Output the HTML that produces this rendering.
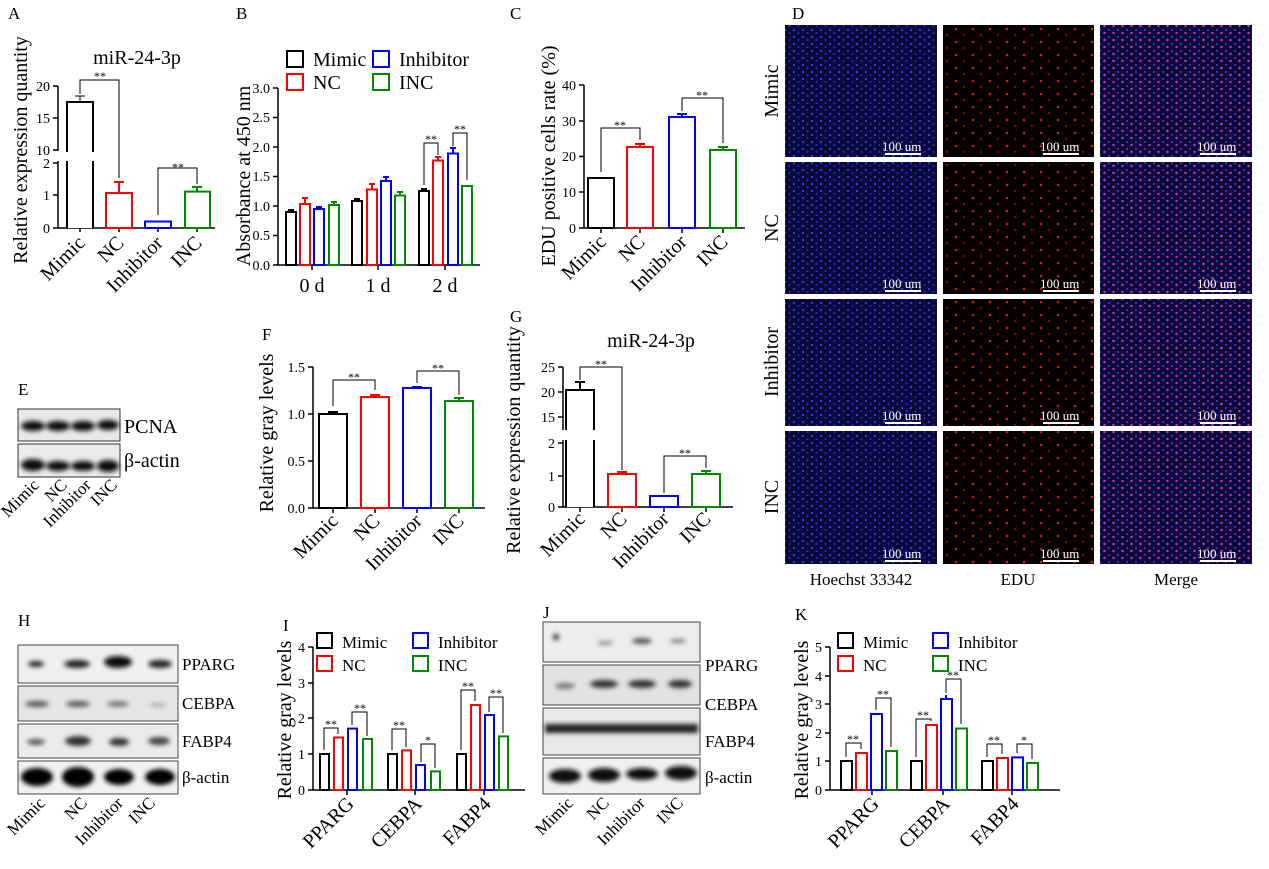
<!DOCTYPE html>
<html><head><meta charset="utf-8"><style>
html,body{margin:0;padding:0;background:#fff}
svg{display:block}
text{font-family:"Liberation Serif",serif;fill:#000}
.t{font-size:14px}
.l{font-size:20px}
.p{font-size:17px}
.s{font-size:12px}
.ax{stroke:#000;stroke-width:1.5;fill:none}
.k{stroke:#000;stroke-width:2;fill:#fff}
.r{stroke:#f00;stroke-width:2;fill:#fff}
.b{stroke:#00f;stroke-width:2;fill:#fff}
.g{stroke:#080;stroke-width:2;fill:#fff}
.br{stroke:#000;stroke-width:1;fill:none}
</style></head><body>
<svg width="1269" height="869" viewBox="0 0 1269 869" xmlns="http://www.w3.org/2000/svg">
<defs>
<pattern id="pb" width="9" height="7" patternUnits="userSpaceOnUse"><rect width="9" height="7" fill="#0a0a3a"/><circle cx="2" cy="2" r="1.1" fill="#3a3aff"/><circle cx="6.5" cy="5" r="1" fill="#2a2ad0"/></pattern>
<pattern id="pr" width="17" height="13" patternUnits="userSpaceOnUse"><rect width="17" height="13" fill="#050000"/><circle cx="4" cy="3" r="1.3" fill="#e01010"/><circle cx="12" cy="9" r="1.1" fill="#a00000"/></pattern>
<pattern id="pm" width="9" height="7" patternUnits="userSpaceOnUse"><rect width="9" height="7" fill="#0d0a3a"/><circle cx="2" cy="2" r="1.1" fill="#4030e0"/><circle cx="6.5" cy="5" r="1.2" fill="#d030c0"/></pattern>
<filter id="bl"><feGaussianBlur stdDeviation="2.5"/></filter>
</defs>

<!-- ===== A ===== -->
<text x="8" y="19" class="p">A</text>
<text x="137" y="64" class="l" text-anchor="middle">miR-24-3p</text>
<text transform="translate(27,150) rotate(-90)" class="l" text-anchor="middle">Relative expression quantity</text>
<path class="ax" d="M58,86 V151 M58,161 V228 H215 M53,86 H58 M53,118 H58 M53,150 H58 M53,163 H58 M53,195 H58 M53,228 H58 M80,228 V232 M119,228 V232 M158,228 V232 M197,228 V232"/>
<text x="50" y="91" class="t" text-anchor="end">20</text>
<text x="50" y="123" class="t" text-anchor="end">15</text>
<text x="50" y="155" class="t" text-anchor="end">10</text>
<text x="50" y="168" class="t" text-anchor="end">2</text>
<text x="50" y="200" class="t" text-anchor="end">1</text>
<text x="50" y="233" class="t" text-anchor="end">0</text>
<path class="k" d="M67,228 V102 H93 V228"/>
<rect x="66" y="152" width="30" height="9" fill="#fff"/>
<path class="br" d="M80,102 V96 M75,96 H85" stroke-width="2"/>
<rect class="r" x="106" y="193" width="26" height="35"/>
<path d="M119,193 V182 M114,182 H124" stroke="#f00" stroke-width="2"/>
<rect class="b" x="145" y="221.5" width="26" height="6.5"/>
<rect class="g" x="185" y="191.6" width="25" height="36.4"/>
<path d="M197,191 V187 M192,187 H202" stroke="#080" stroke-width="2"/>
<path class="br" d="M80,94 V80 H119 V178"/>
<text x="100" y="80" class="s" text-anchor="middle">**</text>
<path class="br" d="M158,215 V168 H197 V184"/>
<text x="178" y="171" class="s" text-anchor="middle">**</text>
<text transform="translate(86,244) rotate(-45)" class="l" text-anchor="end">Mimic</text>
<text transform="translate(125,244) rotate(-45)" class="l" text-anchor="end">NC</text>
<text transform="translate(164,244) rotate(-45)" class="l" text-anchor="end">Inhibitor</text>
<text transform="translate(203,244) rotate(-45)" class="l" text-anchor="end">INC</text>

<!-- ===== B ===== -->
<text x="236" y="19" class="p">B</text>
<rect x="287" y="51" width="16" height="16" fill="none" stroke="#000" stroke-width="2"/>
<text x="313" y="66" class="l">Mimic</text>
<rect x="373" y="51" width="16" height="16" fill="none" stroke="#00f" stroke-width="2"/>
<text x="399" y="66" class="l">Inhibitor</text>
<rect x="287" y="74" width="16" height="16" fill="none" stroke="#f00" stroke-width="2"/>
<text x="313" y="89" class="l">NC</text>
<rect x="373" y="74" width="16" height="16" fill="none" stroke="#080" stroke-width="2"/>
<text x="399" y="89" class="l">INC</text>
<text transform="translate(250,176) rotate(-90)" class="l" text-anchor="middle">Absorbance at 450 nm</text>
<path class="ax" d="M278,88 V265 H480 M273,88 H278 M273,117.5 H278 M273,147 H278 M273,176.5 H278 M273,206 H278 M273,235.5 H278 M273,265 H278 M312,265 V270 M378,265 V270 M445,265 V270"/>
<text x="270" y="93" class="t" text-anchor="end">3.0</text>
<text x="270" y="122" class="t" text-anchor="end">2.5</text>
<text x="270" y="152" class="t" text-anchor="end">2.0</text>
<text x="270" y="181" class="t" text-anchor="end">1.5</text>
<text x="270" y="211" class="t" text-anchor="end">1.0</text>
<text x="270" y="240" class="t" text-anchor="end">0.5</text>
<text x="270" y="270" class="t" text-anchor="end">0.0</text>
<rect class="k" x="286" y="212" width="10" height="53"/><path d="M291,212 V210 M288,210 H294" stroke="#000" stroke-width="2"/>
<rect class="r" x="300" y="204" width="10" height="61"/><path d="M305,204 V198 M302,198 H308" stroke="#f00" stroke-width="2"/>
<rect class="b" x="314" y="209" width="10" height="56"/><path d="M319,209 V207 M316,207 H322" stroke="#00f" stroke-width="2"/>
<rect class="g" x="329" y="205" width="10" height="60"/><path d="M334,205 V202 M331,202 H337" stroke="#080" stroke-width="2"/>
<rect class="k" x="352" y="201" width="10" height="64"/><path d="M357,201 V199 M354,199 H360" stroke="#000" stroke-width="2"/>
<rect class="r" x="367" y="189.5" width="10" height="75.5"/><path d="M372,189 V184 M369,184 H375" stroke="#f00" stroke-width="2"/>
<rect class="b" x="381" y="181" width="10" height="84"/><path d="M386,181 V177 M383,177 H389" stroke="#00f" stroke-width="2"/>
<rect class="g" x="395" y="195.5" width="10" height="69.5"/><path d="M400,195 V192 M397,192 H403" stroke="#080" stroke-width="2"/>
<rect class="k" x="419" y="191" width="10" height="74"/><path d="M424,191 V189 M421,189 H427" stroke="#000" stroke-width="2"/>
<rect class="r" x="433" y="160.5" width="10" height="104.5"/><path d="M438,160 V157 M435,157 H441" stroke="#f00" stroke-width="2"/>
<rect class="b" x="448" y="153.5" width="10" height="111.5"/><path d="M453,153 V148 M450,148 H456" stroke="#00f" stroke-width="2"/>
<rect class="g" x="462" y="186" width="10" height="79"/>
<path class="br" d="M424,185 V143 H438 V155"/>
<text x="431" y="143" class="s" text-anchor="middle">**</text>
<path class="br" d="M453,146 V133 H467 V180"/>
<text x="460" y="133" class="s" text-anchor="middle">**</text>
<text x="312" y="292" class="l" text-anchor="middle">0 d</text>
<text x="378" y="292" class="l" text-anchor="middle">1 d</text>
<text x="445" y="292" class="l" text-anchor="middle">2 d</text>

<!-- ===== C ===== -->
<text x="510" y="19" class="p">C</text>
<text transform="translate(555,156) rotate(-90)" class="l" text-anchor="middle">EDU positive cells rate (%)</text>
<path class="ax" d="M584,85 V228 H745 M579,85 H584 M579,121 H584 M579,156.5 H584 M579,192 H584 M579,228 H584 M601,228 V233 M640,228 V233 M682,228 V233 M723,228 V233"/>
<text x="576" y="90" class="t" text-anchor="end">40</text>
<text x="576" y="126" class="t" text-anchor="end">30</text>
<text x="576" y="161" class="t" text-anchor="end">20</text>
<text x="576" y="197" class="t" text-anchor="end">10</text>
<text x="576" y="233" class="t" text-anchor="end">0</text>
<rect class="k" x="588" y="178" width="26" height="50"/>
<rect class="r" x="627" y="147" width="26" height="81"/><path d="M640,147 V144 M635,144 H645" stroke="#f00" stroke-width="2"/>
<rect class="b" x="669" y="117" width="26" height="111"/><path d="M682,117 V114 M677,114 H687" stroke="#00f" stroke-width="2"/>
<rect class="g" x="710" y="150" width="26" height="78"/><path d="M723,150 V147 M718,147 H728" stroke="#080" stroke-width="2"/>
<path class="br" d="M601,172 V128 H640 V140"/>
<text x="620" y="129" class="s" text-anchor="middle">**</text>
<path class="br" d="M682,111 V98 H723 V143"/>
<text x="702" y="99" class="s" text-anchor="middle">**</text>
<text transform="translate(607,243) rotate(-45)" class="l" text-anchor="end">Mimic</text>
<text transform="translate(646,243) rotate(-45)" class="l" text-anchor="end">NC</text>
<text transform="translate(688,243) rotate(-45)" class="l" text-anchor="end">Inhibitor</text>
<text transform="translate(729,243) rotate(-45)" class="l" text-anchor="end">INC</text>

<!-- ===== D ===== -->
<text x="792" y="19" class="p">D</text>
<rect x="785" y="25" width="152" height="132" fill="url(#pb)"/>
<rect x="943" y="25" width="151" height="132" fill="url(#pr)"/>
<rect x="1100" y="25" width="152" height="132" fill="url(#pm)"/>
<rect x="785" y="162" width="152" height="132" fill="url(#pb)"/>
<rect x="943" y="162" width="151" height="132" fill="url(#pr)"/>
<rect x="1100" y="162" width="152" height="132" fill="url(#pm)"/>
<rect x="785" y="299" width="152" height="127" fill="url(#pb)"/>
<rect x="943" y="299" width="151" height="127" fill="url(#pr)"/>
<rect x="1100" y="299" width="152" height="127" fill="url(#pm)"/>
<rect x="785" y="431" width="152" height="133" fill="url(#pb)"/>
<rect x="943" y="431" width="151" height="133" fill="url(#pr)"/>
<rect x="1100" y="431" width="152" height="133" fill="url(#pm)"/>
<g fill="#fff">
<text x="882" y="151" style="fill:#fff;font-size:13px">100 um</text><rect x="885" y="153" width="36" height="2"/>
<text x="1040" y="151" style="fill:#fff;font-size:13px">100 um</text><rect x="1043" y="153" width="36" height="2"/>
<text x="1197" y="151" style="fill:#fff;font-size:13px">100 um</text><rect x="1200" y="153" width="36" height="2"/>
<text x="882" y="288" style="fill:#fff;font-size:13px">100 um</text><rect x="885" y="290" width="36" height="2"/>
<text x="1040" y="288" style="fill:#fff;font-size:13px">100 um</text><rect x="1043" y="290" width="36" height="2"/>
<text x="1197" y="288" style="fill:#fff;font-size:13px">100 um</text><rect x="1200" y="290" width="36" height="2"/>
<text x="882" y="420" style="fill:#fff;font-size:13px">100 um</text><rect x="885" y="422" width="36" height="2"/>
<text x="1040" y="420" style="fill:#fff;font-size:13px">100 um</text><rect x="1043" y="422" width="36" height="2"/>
<text x="1197" y="420" style="fill:#fff;font-size:13px">100 um</text><rect x="1200" y="422" width="36" height="2"/>
<text x="882" y="558" style="fill:#fff;font-size:13px">100 um</text><rect x="885" y="560" width="36" height="2"/>
<text x="1040" y="558" style="fill:#fff;font-size:13px">100 um</text><rect x="1043" y="560" width="36" height="2"/>
<text x="1197" y="558" style="fill:#fff;font-size:13px">100 um</text><rect x="1200" y="560" width="36" height="2"/>
</g>
<text transform="translate(778,91) rotate(-90)" class="l" text-anchor="middle">Mimic</text>
<text transform="translate(778,228) rotate(-90)" class="l" text-anchor="middle">NC</text>
<text transform="translate(778,362) rotate(-90)" class="l" text-anchor="middle">Inhibitor</text>
<text transform="translate(778,497) rotate(-90)" class="l" text-anchor="middle">INC</text>
<text x="861" y="585" class="p" text-anchor="middle">Hoechst 33342</text>
<text x="1018" y="585" class="p" text-anchor="middle">EDU</text>
<text x="1176" y="585" class="p" text-anchor="middle">Merge</text>

<!-- ===== E ===== -->
<text x="18" y="395" class="p">E</text>
<rect x="18" y="409" width="102" height="32" fill="#e8e8e8" stroke="#333"/>
<rect x="18" y="444" width="102" height="33" fill="#ebebeb" stroke="#333"/>
<g filter="url(#bl)" fill="#111">
<ellipse cx="33" cy="426" rx="12" ry="5"/><ellipse cx="58" cy="426" rx="12" ry="5"/><ellipse cx="83" cy="426" rx="12" ry="5"/><ellipse cx="108" cy="425" rx="11" ry="5"/>
<ellipse cx="33" cy="465" rx="12" ry="6"/><ellipse cx="58" cy="466" rx="12" ry="5"/><ellipse cx="83" cy="466" rx="12" ry="5"/><ellipse cx="108" cy="466" rx="11" ry="6"/>
</g>
<text x="124" y="433" class="l">PCNA</text>
<text x="124" y="467" class="l">β-actin</text>
<text transform="translate(40,486) rotate(-45)" class="p" text-anchor="end">Mimic</text>
<text transform="translate(68,486) rotate(-45)" class="p" text-anchor="end">NC</text>
<text transform="translate(92,486) rotate(-45)" class="p" text-anchor="end">Inhibitor</text>
<text transform="translate(118,486) rotate(-45)" class="p" text-anchor="end">INC</text>

<!-- ===== F ===== -->
<text x="262" y="340" class="p">F</text>
<text transform="translate(273,433) rotate(-90)" class="l" text-anchor="middle">Relative gray levels</text>
<path class="ax" d="M313,367 V508 H485 M308,367 H313 M308,414 H313 M308,461 H313 M308,508 H313 M333,508 V513 M375,508 V513 M417,508 V513 M459,508 V513"/>
<text x="305" y="372" class="t" text-anchor="end">1.5</text>
<text x="305" y="419" class="t" text-anchor="end">1.0</text>
<text x="305" y="466" class="t" text-anchor="end">0.5</text>
<text x="305" y="513" class="t" text-anchor="end">0.0</text>
<rect class="k" x="319" y="414" width="28" height="94"/><path d="M333,414 V412 M328,412 H338" stroke="#000" stroke-width="2"/>
<rect class="r" x="361" y="397" width="28" height="111"/><path d="M375,397 V395 M370,395 H380" stroke="#f00" stroke-width="2"/>
<rect class="b" x="403" y="388" width="28" height="120"/><path d="M417,388 V387 M412,387 H422" stroke="#00f" stroke-width="2"/>
<rect class="g" x="445" y="401" width="28" height="107"/><path d="M459,401 V398 M454,398 H464" stroke="#080" stroke-width="2"/>
<path class="br" d="M333,406 V380 H375 V390"/>
<text x="354" y="381" class="s" text-anchor="middle">**</text>
<path class="br" d="M417,383 V371 H459 V395"/>
<text x="438" y="372" class="s" text-anchor="middle">**</text>
<text transform="translate(339,522) rotate(-45)" class="l" text-anchor="end">Mimic</text>
<text transform="translate(381,522) rotate(-45)" class="l" text-anchor="end">NC</text>
<text transform="translate(423,522) rotate(-45)" class="l" text-anchor="end">Inhibitor</text>
<text transform="translate(465,522) rotate(-45)" class="l" text-anchor="end">INC</text>

<!-- ===== G ===== -->
<text x="510" y="322" class="p">G</text>
<text x="651" y="347" class="l" text-anchor="middle">miR-24-3p</text>
<text transform="translate(520,440) rotate(-90)" class="l" text-anchor="middle">Relative expression quantity</text>
<path class="ax" d="M563,367 V430 M563,440 V507 H733 M558,367 H563 M558,392 H563 M558,417 H563 M558,443 H563 M558,476 H563 M558,507 H563 M580,507 V512 M622,507 V512 M664,507 V512 M706,507 V512"/>
<text x="555" y="372" class="t" text-anchor="end">25</text>
<text x="555" y="397" class="t" text-anchor="end">20</text>
<text x="555" y="422" class="t" text-anchor="end">15</text>
<text x="555" y="448" class="t" text-anchor="end">2</text>
<text x="555" y="481" class="t" text-anchor="end">1</text>
<text x="555" y="512" class="t" text-anchor="end">0</text>
<path class="k" d="M566,507 V390 H594 V507"/>
<rect x="565" y="430" width="32" height="10" fill="#fff"/>
<path d="M580,390 V382 M575,382 H585" stroke="#000" stroke-width="2"/>
<rect class="r" x="608" y="474" width="28" height="33"/><path d="M622,474 V472 M617,472 H627" stroke="#f00" stroke-width="2"/>
<rect class="b" x="650" y="496" width="28" height="11"/>
<rect class="g" x="692" y="474" width="28" height="33"/><path d="M706,474 V471 M701,471 H711" stroke="#080" stroke-width="2"/>
<path class="br" d="M580,380 V367 H622 V470"/>
<text x="601" y="368" class="s" text-anchor="middle">**</text>
<path class="br" d="M664,493 V456 H706 V468"/>
<text x="685" y="457" class="s" text-anchor="middle">**</text>
<text transform="translate(586,520) rotate(-45)" class="l" text-anchor="end">Mimic</text>
<text transform="translate(628,520) rotate(-45)" class="l" text-anchor="end">NC</text>
<text transform="translate(670,520) rotate(-45)" class="l" text-anchor="end">Inhibitor</text>
<text transform="translate(712,520) rotate(-45)" class="l" text-anchor="end">INC</text>

<!-- ===== H ===== -->
<text x="18" y="626" class="p">H</text>
<rect x="18" y="645" width="160" height="38" fill="#f0f0f0" stroke="#444"/>
<rect x="18" y="686" width="160" height="35" fill="#e6e6e6" stroke="#444"/>
<rect x="18" y="724" width="160" height="34" fill="#ebebeb" stroke="#444"/>
<rect x="18" y="761" width="160" height="33" fill="#f2f2f2" stroke="#444"/>
<g filter="url(#bl)">
<ellipse cx="36" cy="664" rx="8" ry="3" fill="#222"/><ellipse cx="77" cy="664" rx="13" ry="4" fill="#222"/><ellipse cx="118" cy="662" rx="14" ry="6" fill="#111"/><ellipse cx="160" cy="664" rx="12" ry="4" fill="#222"/>
<ellipse cx="37" cy="704" rx="12" ry="3" fill="#555"/><ellipse cx="78" cy="704" rx="12" ry="3" fill="#555"/><ellipse cx="118" cy="704" rx="11" ry="3" fill="#777"/><ellipse cx="158" cy="705" rx="9" ry="2" fill="#aaa"/>
<ellipse cx="36" cy="742" rx="9" ry="3" fill="#555"/><ellipse cx="78" cy="741" rx="13" ry="5" fill="#333"/><ellipse cx="119" cy="742" rx="10" ry="4" fill="#333"/><ellipse cx="159" cy="741" rx="11" ry="4" fill="#444"/>
<ellipse cx="37" cy="777" rx="16" ry="9" fill="#000"/><ellipse cx="78" cy="777" rx="16" ry="10" fill="#000"/><ellipse cx="119" cy="777" rx="15" ry="8" fill="#000"/><ellipse cx="160" cy="777" rx="15" ry="8" fill="#000"/>
</g>
<text x="182" y="670" class="p">PPARG</text>
<text x="182" y="709" class="p">CEBPA</text>
<text x="182" y="747" class="p">FABP4</text>
<text x="182" y="783" class="p">β-actin</text>
<text transform="translate(46,804) rotate(-45)" class="p" text-anchor="end">Mimic</text>
<text transform="translate(88,804) rotate(-45)" class="p" text-anchor="end">NC</text>
<text transform="translate(124,804) rotate(-45)" class="p" text-anchor="end">Inhibitor</text>
<text transform="translate(156,804) rotate(-45)" class="p" text-anchor="end">INC</text>

<!-- ===== I ===== -->
<text x="283" y="631" class="p">I</text>
<rect x="317" y="633" width="15" height="15" fill="none" stroke="#000" stroke-width="2"/>
<text x="342" y="648" class="p">Mimic</text>
<rect x="413" y="633" width="15" height="15" fill="none" stroke="#00f" stroke-width="2"/>
<text x="438" y="648" class="p">Inhibitor</text>
<rect x="317" y="656" width="15" height="15" fill="none" stroke="#f00" stroke-width="2"/>
<text x="342" y="671" class="p">NC</text>
<rect x="413" y="656" width="15" height="15" fill="none" stroke="#080" stroke-width="2"/>
<text x="438" y="671" class="p">INC</text>
<text transform="translate(291,720) rotate(-90)" class="l" text-anchor="middle">Relative gray levels</text>
<path class="ax" d="M313,647 V790 H525 M308,647 H313 M308,683 H313 M308,718 H313 M308,754 H313 M308,790 H313 M347,790 V795 M415,790 V795 M484,790 V795"/>
<text x="305" y="652" class="t" text-anchor="end">4</text>
<text x="305" y="688" class="t" text-anchor="end">3</text>
<text x="305" y="723" class="t" text-anchor="end">2</text>
<text x="305" y="759" class="t" text-anchor="end">1</text>
<text x="305" y="795" class="t" text-anchor="end">0</text>
<rect class="k" x="320" y="754" width="9" height="36"/>
<rect class="r" x="334" y="737.5" width="9" height="52.5"/>
<rect class="b" x="348" y="728.6" width="9" height="61.4"/>
<rect class="g" x="363" y="739" width="9" height="51"/>
<rect class="k" x="388" y="754" width="9" height="36"/>
<rect class="r" x="402" y="750.4" width="9" height="39.6"/>
<rect class="b" x="416" y="765" width="9" height="25"/>
<rect class="g" x="431" y="771.4" width="9" height="18.6"/>
<rect class="k" x="457" y="754" width="9" height="36"/>
<rect class="r" x="471" y="705" width="9" height="85"/>
<rect class="b" x="485" y="715" width="9" height="75"/>
<rect class="g" x="499" y="736.4" width="9" height="53.6"/>
<path class="br" d="M324,750 V728 H338 V734 M352,725 V712 H367 V736 M392,750 V729 H406 V747 M421,762 V744 H435 V768 M461,750 V690 H475 V701 M489,712 V697 H503 V733"/>
<text x="331" y="728" class="s" text-anchor="middle">**</text>
<text x="360" y="712" class="s" text-anchor="middle">**</text>
<text x="399" y="729" class="s" text-anchor="middle">**</text>
<text x="428" y="744" class="s" text-anchor="middle">*</text>
<text x="468" y="690" class="s" text-anchor="middle">**</text>
<text x="496" y="697" class="s" text-anchor="middle">**</text>
<text transform="translate(355,805) rotate(-45)" class="l" text-anchor="end">PPARG</text>
<text transform="translate(423,805) rotate(-45)" class="l" text-anchor="end">CEBPA</text>
<text transform="translate(492,805) rotate(-45)" class="l" text-anchor="end">FABP4</text>

<!-- ===== J ===== -->
<text x="543" y="618" class="p">J</text>
<rect x="543" y="622" width="157" height="40" fill="#ededed" stroke="#444"/>
<rect x="543" y="665" width="157" height="40" fill="#e2e2e2" stroke="#444"/>
<rect x="543" y="708" width="157" height="47" fill="#e8e8e8" stroke="#444"/>
<rect x="543" y="758" width="157" height="36" fill="#f0f0f0" stroke="#444"/>
<g filter="url(#bl)">
<ellipse cx="556" cy="637" rx="3" ry="3" fill="#222"/><ellipse cx="605" cy="643" rx="8" ry="2" fill="#888"/><ellipse cx="642" cy="641" rx="10" ry="3" fill="#555"/><ellipse cx="678" cy="641" rx="8" ry="2" fill="#777"/>
<ellipse cx="565" cy="686" rx="10" ry="3" fill="#777"/><ellipse cx="604" cy="684" rx="14" ry="4" fill="#333"/><ellipse cx="642" cy="684" rx="14" ry="4" fill="#333"/><ellipse cx="680" cy="684" rx="12" ry="4" fill="#333"/>
<rect x="545" y="724" width="153" height="9" fill="#222"/>
<ellipse cx="565" cy="776" rx="16" ry="7" fill="#111"/><ellipse cx="604" cy="775" rx="16" ry="7" fill="#111"/><ellipse cx="642" cy="774" rx="16" ry="6" fill="#111"/><ellipse cx="681" cy="773" rx="16" ry="7" fill="#111"/>
</g>
<text x="705" y="671" class="p">PPARG</text>
<text x="705" y="710" class="p">CEBPA</text>
<text x="705" y="747" class="p">FABP4</text>
<text x="705" y="783" class="p">β-actin</text>
<text transform="translate(574,804) rotate(-45)" class="p" text-anchor="end">Mimic</text>
<text transform="translate(610,804) rotate(-45)" class="p" text-anchor="end">NC</text>
<text transform="translate(646,804) rotate(-45)" class="p" text-anchor="end">Inhibitor</text>
<text transform="translate(684,804) rotate(-45)" class="p" text-anchor="end">INC</text>

<!-- ===== K ===== -->
<text x="795" y="620" class="p">K</text>
<rect x="838" y="633" width="15" height="15" fill="none" stroke="#000" stroke-width="2"/>
<text x="863" y="648" class="p">Mimic</text>
<rect x="933" y="633" width="15" height="15" fill="none" stroke="#00f" stroke-width="2"/>
<text x="958" y="648" class="p">Inhibitor</text>
<rect x="838" y="656" width="15" height="15" fill="none" stroke="#f00" stroke-width="2"/>
<text x="863" y="671" class="p">NC</text>
<rect x="933" y="656" width="15" height="15" fill="none" stroke="#080" stroke-width="2"/>
<text x="958" y="671" class="p">INC</text>
<text transform="translate(808,720) rotate(-90)" class="l" text-anchor="middle">Relative gray levels</text>
<path class="ax" d="M830,647 V790 H1060 M825,647 H830 M825,676 H830 M825,704 H830 M825,733 H830 M825,761 H830 M825,790 H830 M872,790 V795 M943,790 V795 M1012,790 V795"/>
<text x="822" y="652" class="t" text-anchor="end">5</text>
<text x="822" y="681" class="t" text-anchor="end">4</text>
<text x="822" y="709" class="t" text-anchor="end">3</text>
<text x="822" y="738" class="t" text-anchor="end">2</text>
<text x="822" y="766" class="t" text-anchor="end">1</text>
<text x="822" y="795" class="t" text-anchor="end">0</text>
<rect class="k" x="841" y="761" width="11" height="29"/>
<rect class="r" x="856" y="753" width="11" height="37"/>
<rect class="b" x="871" y="714" width="11" height="76"/>
<rect class="g" x="886" y="751" width="11" height="39"/>
<rect class="k" x="911" y="761" width="11" height="29"/>
<rect class="r" x="926" y="725" width="11" height="65"/>
<rect class="b" x="941" y="699" width="11" height="91"/><path d="M946,699 V695" stroke="#00f" stroke-width="2"/>
<rect class="g" x="956" y="728.5" width="11" height="61.5"/>
<rect class="k" x="982" y="761" width="11" height="29"/>
<rect class="r" x="997" y="758" width="11" height="32"/>
<rect class="b" x="1012" y="757.4" width="11" height="32.6"/>
<rect class="g" x="1027" y="763" width="11" height="27"/>
<path class="br" d="M846,757 V743 H861 V749 M876,710 V698 H891 V747 M916,757 V719 H931 V721 M946,693 V679 H961 V724 M987,757 V744 H1002 V754 M1017,753 V744 H1032 V759"/>
<text x="853" y="743" class="s" text-anchor="middle">**</text>
<text x="883" y="698" class="s" text-anchor="middle">**</text>
<text x="923" y="719" class="s" text-anchor="middle">**</text>
<text x="953" y="679" class="s" text-anchor="middle">**</text>
<text x="994" y="744" class="s" text-anchor="middle">**</text>
<text x="1024" y="744" class="s" text-anchor="middle">*</text>
<text transform="translate(880,805) rotate(-45)" class="l" text-anchor="end">PPARG</text>
<text transform="translate(951,805) rotate(-45)" class="l" text-anchor="end">CEBPA</text>
<text transform="translate(1020,805) rotate(-45)" class="l" text-anchor="end">FABP4</text>
</svg>
</body></html>
